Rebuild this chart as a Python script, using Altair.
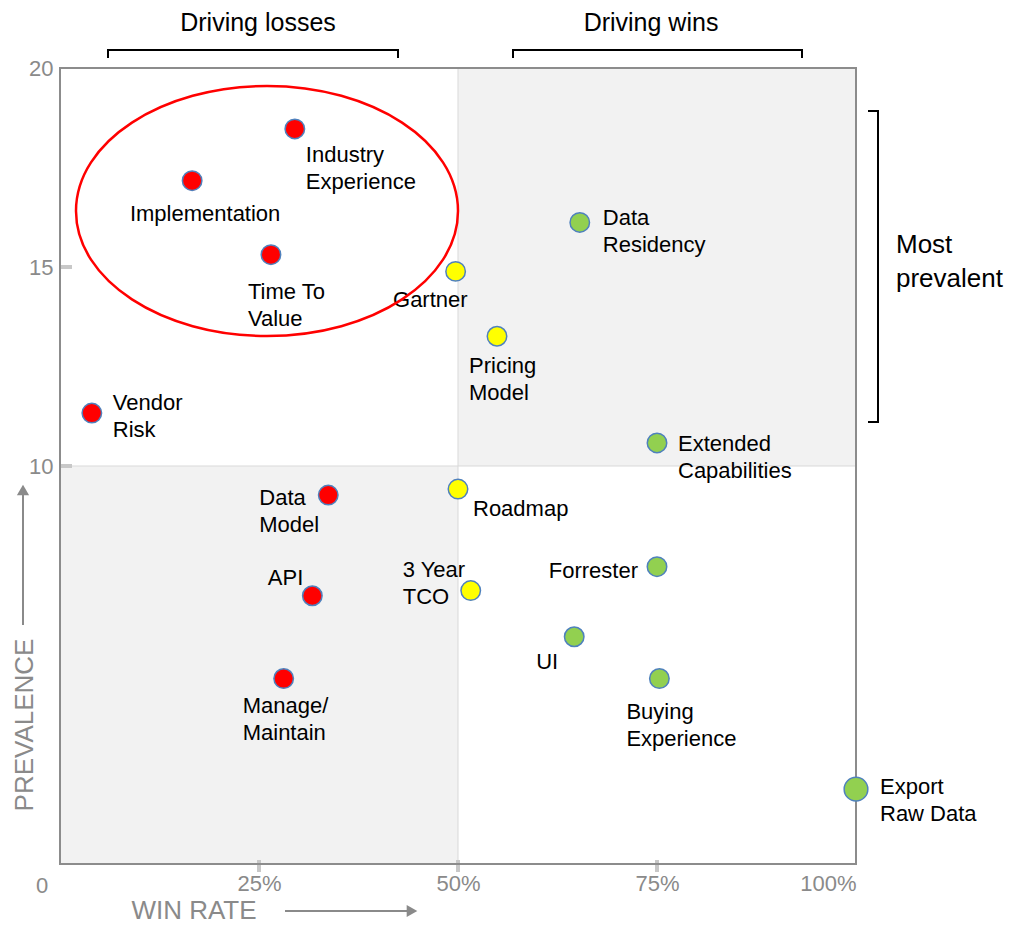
import altair as alt
import pandas as pd

# ---------------- data ----------------
names = ["Industry Experience", "Implementation", "Time To Value", "Vendor Risk",
         "Data Model", "API", "Manage/Maintain", "Gartner", "Pricing Model",
         "Roadmap", "3 Year TCO", "Data Residency", "Extended Capabilities",
         "Forrester", "UI", "Buying Experience", "Export Raw Data"]
labels = ["Industry\nExperience", "Implementation", "Time To\nValue", "Vendor\nRisk",
          "Data\nModel", "API", "Manage/\nMaintain", "Gartner", "Pricing\nModel",
          "Roadmap", "3 Year\nTCO", "Data\nResidency", "Extended\nCapabilities",
          "Forrester", "UI", "Buying\nExperience", "Export\nRaw Data"]
win_rate = [29.5, 16.6, 26.5, 4.0, 33.7, 31.7, 28.1, 49.7, 54.9,
            50.0, 51.6, 65.3, 75.0, 75.0, 64.6, 75.3, 100.0]
prevalence = [18.47, 17.17, 15.31, 11.33, 9.27, 6.74, 4.66, 14.89, 13.26,
              9.42, 6.87, 16.12, 10.58, 7.47, 5.71, 4.66, 1.88]
group = ["loss"] * 7 + ["neutral"] * 4 + ["win"] * 6

group_names = ["loss", "neutral", "win"]
group_colors = ["#ff0000", "#ffff00", "#92d050"]

x_label_values = [25, 50, 75, 100]
x_tick_values = [25, 50, 75]
y_label_values = [10, 15, 20]
y_tick_values = [10, 15]

quad_x0 = [0, 50]
quad_x1 = [50, 100]
quad_y0 = [0, 10]
quad_y1 = [10, 20]

df = pd.DataFrame({"name": names, "label": labels, "win_rate": win_rate,
                   "prevalence": prevalence, "group": group})
quad = pd.DataFrame({"x0": quad_x0, "x1": quad_x1, "y0": quad_y0, "y1": quad_y1})
dummy = pd.DataFrame({"a": [0]})

# label placement (layout only): align, dx, dy  (baseline = top)
label_layout = {
    "Industry Experience": ("left", 11, 16),
    "Implementation": ("center", 13, 23),
    "Time To Value": ("left", -23, 27),
    "Vendor Risk": ("left", 21, -20),
    "Data Model": ("left", -69, -7),
    "API": ("right", -9, -28),
    "Manage/Maintain": ("left", -41, 17),
    "Gartner": ("right", 12, 19),
    "Pricing Model": ("left", -28, 20),
    "Roadmap": ("left", 15, 10),
    "3 Year TCO": ("left", -68, -31),
    "Data Residency": ("left", 23, -14),
    "Extended Capabilities": ("left", 21, -9),
    "Forrester": ("right", -19, -6),
    "UI": ("right", -16, 15),
    "Buying Experience": ("left", -33, 23),
    "Export Raw Data": ("left", 24, -12),
}

W = H = 796
FONT = "Liberation Sans"
GRAY = "#8a8a8a"

xs = alt.Scale(domain=[0, 100], nice=False, zero=False)
ys = alt.Scale(domain=[0, 20], nice=False, zero=False)
x_axis = alt.Axis(values=x_label_values, labelExpr="datum.value + '%'", title=None,
                  ticks=False, domain=False, grid=False, labelFontSize=22,
                  labelColor=GRAY, labelPadding=9, labelFont=FONT)
y_axis = alt.Axis(values=y_label_values, title=None, ticks=False, domain=False,
                  grid=False, labelFontSize=22, labelColor=GRAY, labelPadding=7,
                  labelFont=FONT)


def X(field):
    return alt.X(field, type="quantitative", scale=xs, axis=x_axis)


def Y(field):
    return alt.Y(field, type="quantitative", scale=ys, axis=y_axis)


def rule(x1, y1, x2, y2, color="black", w=2):
    return alt.Chart(dummy).mark_rule(color=color, strokeWidth=w).encode(
        x=alt.value(x1), x2=alt.value(x2), y=alt.value(y1), y2=alt.value(y2))


def text(s, x, y, size, color="black", angle=0, align="center", baseline="middle"):
    return alt.Chart(dummy).mark_text(text=s, fontSize=size, color=color, angle=angle,
                                      align=align, baseline=baseline, font=FONT).encode(
        x=alt.value(x), y=alt.value(y))


layers = []

# quadrant shading
layers.append(alt.Chart(quad).mark_rect(color="#f2f2f2").encode(
    x=X("x0"), x2="x1", y=Y("y0"), y2="y1"))

# divider lines
layers.append(alt.Chart(pd.DataFrame({"v": [50]})).mark_rule(
    color="#d9d9d9", strokeWidth=1).encode(x=X("v")))
layers.append(alt.Chart(pd.DataFrame({"v": [10]})).mark_rule(
    color="#d9d9d9", strokeWidth=1).encode(y=Y("v")))

# tick marks
layers.append(alt.Chart(pd.DataFrame({"v": x_tick_values})).mark_rule(
    color="#c8c8c8", strokeWidth=4).encode(x=X("v"), y=alt.value(H - 4), y2=alt.value(H + 8)))
layers.append(alt.Chart(pd.DataFrame({"v": y_tick_values})).mark_rule(
    color="#c8c8c8", strokeWidth=4).encode(y=Y("v"), x=alt.value(0), x2=alt.value(12)))

# frame
layers.append(alt.Chart(dummy).mark_rect(filled=False, stroke="#8c8c8c", strokeWidth=2).encode(
    x=alt.value(0), x2=alt.value(W), y=alt.value(0), y2=alt.value(H)))

# labels
for n in names:
    align, dx, dy = label_layout[n]
    layers.append(alt.Chart(df).transform_filter(alt.datum.name == n).mark_text(
        align=align, baseline="top", dx=dx, dy=dy, fontSize=22, lineBreak="\n",
        lineHeight=27, font=FONT, color="black").encode(
        x=X("win_rate"), y=Y("prevalence"), text="label:N"))

# red ellipse
ELLIPSE = "M -1 0 A 1 0.6545 0 1 1 1 0 A 1 0.6545 0 1 1 -1 0 Z"
layers.append(alt.Chart(dummy).mark_point(shape=ELLIPSE, size=145924, filled=False,
                                          stroke="#ff0000", strokeWidth=2.5, opacity=1).encode(
    x=alt.value(207), y=alt.value(143)))

# points
layers.append(alt.Chart(df).mark_circle(opacity=1, stroke="#4f81bd", strokeWidth=1.5).encode(
    x=X("win_rate"), y=Y("prevalence"),
    color=alt.Color("group:N", scale=alt.Scale(domain=group_names, range=group_colors), legend=None),
    size=alt.condition("datum.name == 'Export Raw Data'", alt.value(560), alt.value(380))))

# headers and brackets
layers.append(text("Driving losses", 198, -37, 25, baseline="alphabetic"))
layers.append(rule(48, -18, 338, -18))
layers.append(rule(48, -19, 48, -10))
layers.append(rule(338, -19, 338, -10))

layers.append(text("Driving wins", 591, -37, 25, baseline="alphabetic"))
layers.append(rule(453, -18, 742, -18))
layers.append(rule(453, -19, 453, -10))
layers.append(rule(742, -19, 742, -10))

layers.append(rule(818, 43, 818, 354))
layers.append(rule(808, 43, 819, 43))
layers.append(rule(808, 354, 819, 354))
layers.append(text("Most", 836, 177, 26, align="left"))
layers.append(text("prevalent", 836, 211, 26, align="left"))

# axis titles with arrows
layers.append(text("0", -18, 818, 22, color=GRAY))
layers.append(text("WIN RATE", 134, 851, 26, color=GRAY, baseline="alphabetic"))
layers.append(rule(225, 843, 347, 843, color=GRAY, w=2))
layers.append(alt.Chart(dummy).mark_point(shape="triangle-right", filled=True, color=GRAY,
                                          size=150, opacity=1).encode(
    x=alt.value(352), y=alt.value(843)))
layers.append(text("PREVALENCE", -35, 657, 26, color=GRAY, angle=270))
layers.append(rule(-37, 557, -37, 427, color=GRAY, w=2))
layers.append(alt.Chart(dummy).mark_point(shape="triangle-up", filled=True, color=GRAY,
                                          size=150, opacity=1).encode(
    x=alt.value(-37), y=alt.value(422)))

chart = alt.layer(*layers).properties(
    width=W, height=H,
    autosize=alt.AutoSizeParams(type="none"),
    padding={"left": 52, "top": 60, "right": 155, "bottom": 61},
).configure_view(stroke=None).configure(font=FONT)

chart.save("out.html", embed_options={"renderer": "svg", "actions": False})
